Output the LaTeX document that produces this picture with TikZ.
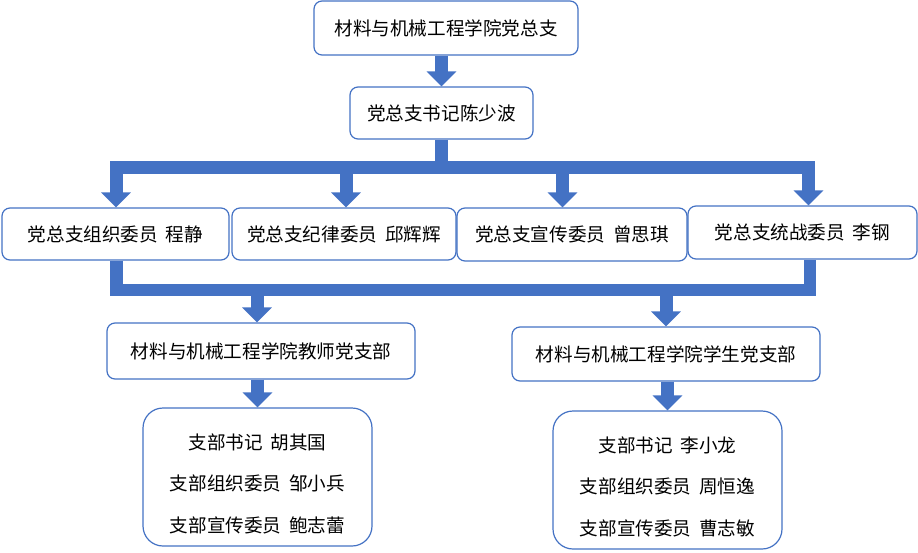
\documentclass[tikz,border=0pt]{standalone}
\usepackage{fontspec}
\usepackage{tikz}
\usetikzlibrary{arrows.meta,positioning}
\newfontfamily\cjk{Noto Sans CJK SC}
\definecolor{partyblue}{HTML}{4472C4}
\newcommand{\sep}{\hspace{0.42em}}
\newcommand{\topgap}{\rule{0pt}{29pt}}

\begin{document}
\begin{tikzpicture}[
    x=1pt,y=-1pt,
    orgbox/.style={draw=partyblue,line width=1.2pt,rounded corners=8pt,fill=white,align=center,font=\cjk\fontsize{18.6}{22}\selectfont,inner sep=0pt},
    memberbox/.style={orgbox,rounded corners=20pt,font=\cjk\fontsize{18.6}{41.5}\selectfont},
    bar/.style={draw=partyblue,line width=12.5pt},
    fatarr/.style={draw=partyblue,line width=13pt,-{Triangle[width=29pt,length=15pt]}}
]
\useasboundingbox (0,0) rectangle (918,552);
% branch committee
\node[orgbox,minimum width=264pt,minimum height=54pt] (top) at (446,28) {材料与机械工程学院党总支};
\node[orgbox,minimum width=183pt,minimum height=52pt] (sec) at (441.5,113) {党总支书记陈少波};
% committee members
\node[orgbox,minimum width=227pt,minimum height=52pt] (org) at (115.5,234) {党总支组织委员\sep 程静};
\node[orgbox,minimum width=224pt,minimum height=52pt] (disc) at (344,234) {党总支纪律委员\sep 邱辉辉};
\node[orgbox,minimum width=230pt,minimum height=53pt] (prop) at (572,234.5) {党总支宣传委员\sep 曾思琪};
\node[orgbox,minimum width=229pt,minimum height=53pt] (front) at (802.5,232.5) {党总支统战委员\sep 李钢};
% sub branches
\node[orgbox,minimum width=308pt,minimum height=56pt] (tbr) at (261,351) {材料与机械工程学院教师党支部};
\node[memberbox,minimum width=229pt,minimum height=138pt] (tmem) at (257.5,477) {\topgap 支部书记\sep 胡其国\\支部组织委员\sep 邹小兵\\支部宣传委员\sep 鲍志蕾};
\node[orgbox,minimum width=308pt,minimum height=54pt] (sbr) at (666,354) {材料与机械工程学院学生党支部};
\node[memberbox,minimum width=229pt,minimum height=138pt] (smem) at (667.5,480) {\topgap 支部书记\sep 李小龙\\支部组织委员\sep 周恒逸\\支部宣传委员\sep 曹志敏};

\coordinate (bl) at (116,167.5);
\coordinate (br) at (808.5,167.5);
\coordinate (ul) at (116.5,290);
\coordinate (ur) at (810,290);

\draw[fatarr] (top.south -| sec.north) -- (sec.north);
\draw[bar] (sec.south) -- (sec.south |- bl);
\draw[bar,line cap=rect] (bl) -- (br);
\draw[fatarr] (bl) -- (bl |- org.north);
\draw[fatarr] (346,167.5) coordinate (b2) -- (b2 |- disc.north);
\draw[fatarr] (562.5,167.5) coordinate (b3) -- (b3 |- prop.north);
\draw[fatarr] (br) -- (br |- front.north);

\draw[bar] (ul |- org.south) -- (ul) -- (ur) -- (ur |- front.south);
\draw[fatarr] (257,290) coordinate (u1) -- (u1 |- tbr.north);
\draw[fatarr] (sbr.north |- ul) -- (sbr.north);
\draw[fatarr] (tmem.north |- tbr.south) -- (tmem.north);
\draw[fatarr] (smem.north |- sbr.south) -- (smem.north);
\end{tikzpicture}
\end{document}
